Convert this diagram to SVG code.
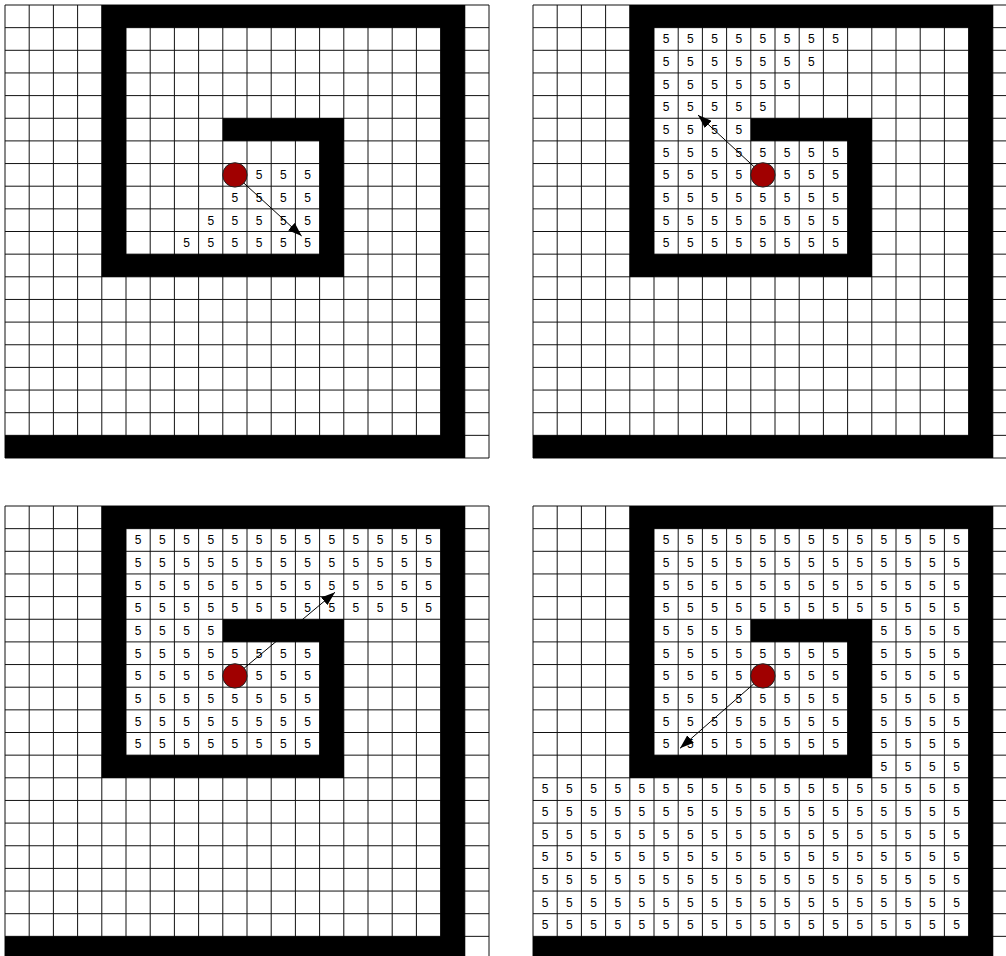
<svg xmlns="http://www.w3.org/2000/svg" xmlns:xlink="http://www.w3.org/1999/xlink" width="1006" height="956" viewBox="0 0 1006 956">
<style>
.grid{fill:none;stroke:#111;stroke-width:1}
.wall{fill:#000}
.num{font-family:"Liberation Sans",Arial,sans-serif;font-size:12px;fill:#000}
.agent{fill:#a00000;stroke:#222;stroke-width:1}
.arrow{stroke:#000;stroke-width:1;fill:none;marker-end:url(#ah)}
</style>
<defs>
<marker id="ah" markerUnits="userSpaceOnUse" markerWidth="14" markerHeight="10" refX="14" refY="5" orient="auto"><path d="M0,0 L14,5 L0,10 Z" fill="#000"/></marker>
<g id="board">
<rect x="0" y="0" width="484" height="453" fill="#fff"/>
<path class="grid" d="M0,0V453M24.2,0V453M48.4,0V453M72.6,0V453M96.8,0V453M121,0V453M145.2,0V453M169.4,0V453M193.6,0V453M217.8,0V453M242,0V453M266.2,0V453M290.4,0V453M314.6,0V453M338.8,0V453M363,0V453M387.2,0V453M411.4,0V453M435.6,0V453M459.8,0V453M484,0V453M0,0H484M0,22.65H484M0,45.3H484M0,67.95H484M0,90.6H484M0,113.25H484M0,135.9H484M0,158.55H484M0,181.2H484M0,203.85H484M0,226.5H484M0,249.15H484M0,271.8H484M0,294.45H484M0,317.1H484M0,339.75H484M0,362.4H484M0,385.05H484M0,407.7H484M0,430.35H484M0,453H484"/>
<rect class="wall" x="96.8" y="0" width="363" height="22.65"/>
<rect class="wall" x="96.8" y="0" width="24.2" height="271.8"/>
<rect class="wall" x="96.8" y="249.15" width="242" height="22.65"/>
<rect class="wall" x="314.6" y="113.25" width="24.2" height="158.55"/>
<rect class="wall" x="217.8" y="113.25" width="121" height="22.65"/>
<rect class="wall" x="435.6" y="0" width="24.2" height="453"/>
<rect class="wall" x="0" y="430.35" width="459.8" height="22.65"/>
</g>
</defs>

<g id="panel-top-left" transform="translate(5,5)">
<use href="#board" xlink:href="#board"/>
<g class="num">
<text x="250.8 275 299.2" y="174.2">555</text>
<text x="226.6 250.8 275 299.2" y="196.8">5555</text>
<text x="202.4 226.6 250.8 275 299.2" y="219.5">55555</text>
<text x="178.2 202.4 226.6 250.8 275 299.2" y="242.1">555555</text>
</g>
<g id="conn-top-left"><line class="arrow" x1="229.9" y1="169.9" x2="296.7" y2="231"/></g>
<g id="agent-top-left"><circle class="agent" cx="229.9" cy="169.9" r="12.2"/></g>
</g>

<g id="panel-top-right" transform="translate(533,5)">
<use href="#board" xlink:href="#board"/>
<g class="num">
<text x="129.8 154 178.2 202.4 226.6 250.8 275 299.2" y="38.3">55555555</text>
<text x="129.8 154 178.2 202.4 226.6 250.8 275" y="60.9">5555555</text>
<text x="129.8 154 178.2 202.4 226.6 250.8" y="83.6">555555</text>
<text x="129.8 154 178.2 202.4 226.6" y="106.2">55555</text>
<text x="129.8 154 178.2 202.4" y="128.9">5555</text>
<text x="129.8 154 178.2 202.4 226.6 250.8 275 299.2" y="151.5">55555555</text>
<text x="129.8 154 178.2 202.4 250.8 275 299.2" y="174.2">5555555</text>
<text x="129.8 154 178.2 202.4 226.6 250.8 275 299.2" y="196.8">55555555</text>
<text x="129.8 154 178.2 202.4 226.6 250.8 275 299.2" y="219.5">55555555</text>
<text x="129.8 154 178.2 202.4 226.6 250.8 275 299.2" y="242.1">55555555</text>
</g>
<g id="conn-top-right"><line class="arrow" x1="229.9" y1="169.9" x2="165" y2="110"/></g>
<g id="agent-top-right"><circle class="agent" cx="229.9" cy="169.9" r="12.2"/></g>
</g>

<g id="panel-bottom-left" transform="translate(5,506)">
<use href="#board" xlink:href="#board"/>
<g class="num">
<text x="129.8 154 178.2 202.4 226.6 250.8 275 299.2 323.4 347.6 371.8 396 420.2" y="38.3">5555555555555</text>
<text x="129.8 154 178.2 202.4 226.6 250.8 275 299.2 323.4 347.6 371.8 396 420.2" y="60.9">5555555555555</text>
<text x="129.8 154 178.2 202.4 226.6 250.8 275 299.2 323.4 347.6 371.8 396 420.2" y="83.6">5555555555555</text>
<text x="129.8 154 178.2 202.4 226.6 250.8 275 299.2 323.4 347.6 371.8 396 420.2" y="106.2">5555555555555</text>
<text x="129.8 154 178.2 202.4" y="128.9">5555</text>
<text x="129.8 154 178.2 202.4 226.6 250.8 275 299.2" y="151.5">55555555</text>
<text x="129.8 154 178.2 202.4 250.8 275 299.2" y="174.2">5555555</text>
<text x="129.8 154 178.2 202.4 226.6 250.8 275 299.2" y="196.8">55555555</text>
<text x="129.8 154 178.2 202.4 226.6 250.8 275 299.2" y="219.5">55555555</text>
<text x="129.8 154 178.2 202.4 226.6 250.8 275 299.2" y="242.1">55555555</text>
</g>
<g id="conn-bottom-left"><line class="arrow" x1="229.9" y1="169.9" x2="330" y2="86.3"/></g>
<g id="agent-bottom-left"><circle class="agent" cx="229.9" cy="169.9" r="12.2"/></g>
</g>

<g id="panel-bottom-right" transform="translate(533,506)">
<use href="#board" xlink:href="#board"/>
<g class="num">
<text x="129.8 154 178.2 202.4 226.6 250.8 275 299.2 323.4 347.6 371.8 396 420.2" y="38.3">5555555555555</text>
<text x="129.8 154 178.2 202.4 226.6 250.8 275 299.2 323.4 347.6 371.8 396 420.2" y="60.9">5555555555555</text>
<text x="129.8 154 178.2 202.4 226.6 250.8 275 299.2 323.4 347.6 371.8 396 420.2" y="83.6">5555555555555</text>
<text x="129.8 154 178.2 202.4 226.6 250.8 275 299.2 323.4 347.6 371.8 396 420.2" y="106.2">5555555555555</text>
<text x="129.8 154 178.2 202.4 347.6 371.8 396 420.2" y="128.9">55555555</text>
<text x="129.8 154 178.2 202.4 226.6 250.8 275 299.2 347.6 371.8 396 420.2" y="151.5">555555555555</text>
<text x="129.8 154 178.2 202.4 250.8 275 299.2 347.6 371.8 396 420.2" y="174.2">55555555555</text>
<text x="129.8 154 178.2 202.4 226.6 250.8 275 299.2 347.6 371.8 396 420.2" y="196.8">555555555555</text>
<text x="129.8 154 178.2 202.4 226.6 250.8 275 299.2 347.6 371.8 396 420.2" y="219.5">555555555555</text>
<text x="129.8 154 178.2 202.4 226.6 250.8 275 299.2 347.6 371.8 396 420.2" y="242.1">555555555555</text>
<text x="347.6 371.8 396 420.2" y="264.8">5555</text>
<text x="8.8 33 57.2 81.4 105.6 129.8 154 178.2 202.4 226.6 250.8 275 299.2 323.4 347.6 371.8 396 420.2" y="287.4">555555555555555555</text>
<text x="8.8 33 57.2 81.4 105.6 129.8 154 178.2 202.4 226.6 250.8 275 299.2 323.4 347.6 371.8 396 420.2" y="310.1">555555555555555555</text>
<text x="8.8 33 57.2 81.4 105.6 129.8 154 178.2 202.4 226.6 250.8 275 299.2 323.4 347.6 371.8 396 420.2" y="332.7">555555555555555555</text>
<text x="8.8 33 57.2 81.4 105.6 129.8 154 178.2 202.4 226.6 250.8 275 299.2 323.4 347.6 371.8 396 420.2" y="355.4">555555555555555555</text>
<text x="8.8 33 57.2 81.4 105.6 129.8 154 178.2 202.4 226.6 250.8 275 299.2 323.4 347.6 371.8 396 420.2" y="378">555555555555555555</text>
<text x="8.8 33 57.2 81.4 105.6 129.8 154 178.2 202.4 226.6 250.8 275 299.2 323.4 347.6 371.8 396 420.2" y="400.7">555555555555555555</text>
<text x="8.8 33 57.2 81.4 105.6 129.8 154 178.2 202.4 226.6 250.8 275 299.2 323.4 347.6 371.8 396 420.2" y="423.3">555555555555555555</text>
</g>
<g id="conn-bottom-right"><line class="arrow" x1="229.9" y1="169.9" x2="147" y2="242.3"/></g>
<g id="agent-bottom-right"><circle class="agent" cx="229.9" cy="169.9" r="12.2"/></g>
</g>
</svg>
